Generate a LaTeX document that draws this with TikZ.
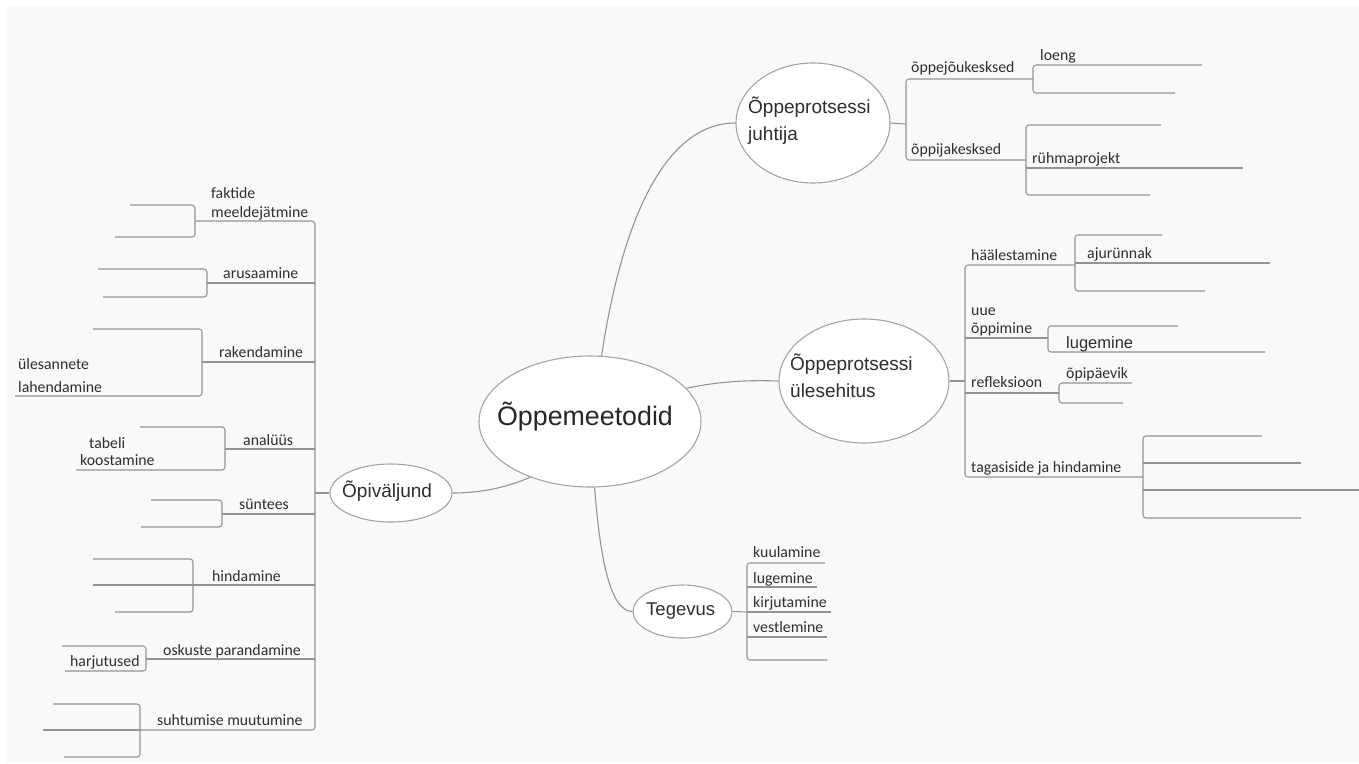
\documentclass[tikz,border=0pt]{standalone}
\usepackage{fontspec}
\setmainfont{Liberation Sans}
\newfontfamily\lblfont{Carlito}
\usetikzlibrary{shapes.geometric}
\definecolor{lncol}{HTML}{939393}
\definecolor{elcol}{HTML}{A4A4A4}
\definecolor{txcol}{HTML}{2E2E2E}
\definecolor{bgcol}{HTML}{F9F9F9}
\begin{document}
\begin{tikzpicture}[x=1pt,y=-1pt,
  ln/.style={draw=lncol, line width=1.05pt, rounded corners=3pt},
  lbl/.style={font=\lblfont\fontsize{15.8}{18}\selectfont, text=txcol, inner sep=0pt, anchor=base west},
  bub/.style={ellipse, draw=elcol, line width=1.1pt, fill=white, inner sep=0pt},
  btxt/.style={font=\fontsize{19}{22}\selectfont, text=txcol, inner sep=0pt, anchor=base west},
]
\useasboundingbox (0,0) rectangle (1359,763);
\fill[white] (0,0) rectangle (1359,763);
\fill[bgcol] (6,6) rectangle (1359,763);

% ---------- bubbles ----------
\node[bub, minimum width=222pt, minimum height=131pt] (C) at (590,421.5) {};
\node[bub, minimum width=122pt, minimum height=58pt] (O) at (391,493) {};
\node[bub, minimum width=154pt, minimum height=120pt] (J) at (813,123) {};
\node[bub, minimum width=170pt, minimum height=124pt] (U) at (864,381) {};
\node[bub, minimum width=99pt, minimum height=53pt] (T) at (682.5,611.5) {};

\node[font=\fontsize{26.8}{30}\selectfont, text=black!85, inner sep=0pt, anchor=base] (Ct) at (585,425) {Õppemeetodid};
\node[btxt] (Ot) at (342,497) {Õpiväljund};
\node[btxt] (Jt1) at (748,113) {Õppeprotsessi};
\node[btxt] (Jt2) at (748,140) {juhtija};
\node[btxt] (Ut1) at (790,370) {Õppeprotsessi};
\node[btxt] (Ut2) at (790,397) {ülesehitus};
\node[btxt, font=\fontsize{18.5}{22}\selectfont] (Tt) at (646,615) {Tegevus};

% ---------- main connectors ----------
\draw[draw=lncol, line width=1.1pt] (C.80) .. controls (622,220) and (665,123) .. (J.west);
\draw[draw=lncol, line width=1.1pt] (C.19) .. controls (720,381) and (750,380) .. (U.west);
\draw[draw=lncol, line width=1.1pt] (C.274) .. controls (599,545) and (608,612) .. (T.west);
\draw[draw=lncol, line width=1.1pt] (C.223) .. controls (505,488) and (480,493) .. (O.east);

% ---------- left: Opivaljund ----------
\coordinate (Lj) at (315,493);
\draw[ln] (O.west) -- (Lj);
\draw[ln] (195,221) -- (315,221) -- (315,730) -- (140,730);
\draw[ln] (315,283) -- (207,283);
\draw[ln] (315,362) -- (202,362);
\draw[ln] (315,449) -- (225,449);
\draw[ln] (315,514) -- (222,514);
\draw[ln] (315,585) -- (93,585);
\draw[ln] (315,659) -- (146,659);
\draw[ln] (140,730) -- (43,730);

\draw[ln] (130,205) -- (195,205) -- (195,237) -- (115,237);
\draw[ln] (98,269) -- (207,269) -- (207,297) -- (103,297);
\draw[ln] (93,329) -- (202,329) -- (202,396) -- (15,396);
\draw[ln] (140,427) -- (225,427) -- (225,470) -- (76,470);
\draw[ln] (151,500) -- (222,500) -- (222,527) -- (141,527);
\draw[ln] (93,559) -- (193,559) -- (193,612) -- (115,612);
\draw[ln] (62,646) -- (146,646) -- (146,671) -- (65,671);
\draw[ln] (53,704) -- (140,704) -- (140,757) -- (64,757);

\node[lbl] (l1a) at (211,198) {faktide};
\node[lbl] (l1b) at (211,217) {meeldejätmine};
\node[lbl] (l2) at (223,278) {arusaamine};
\node[lbl] (l3) at (219,357) {rakendamine};
\node[lbl] (l3a) at (18,369) {ülesannete};
\node[lbl] (l3b) at (18,392) {lahendamine};
\node[lbl] (l4) at (243,445) {analüüs};
\node[lbl] (l4a) at (89,448) {tabeli};
\node[lbl] (l4b) at (80,465) {koostamine};
\node[lbl] (l5) at (239,509) {süntees};
\node[lbl] (l6) at (212,581) {hindamine};
\node[lbl] (l7) at (163,655) {oskuste parandamine};
\node[lbl] (l7a) at (70,666) {harjutused};
\node[lbl] (l8) at (157,725) {suhtumise muutumine};

% ---------- top right: juhtija ----------
\coordinate (Jj) at (906,124);
\draw[ln] (J.east) -- (Jj);
\draw[ln] (1033,79) -- (906,79) -- (906,160) -- (1026,160);
\draw[ln] (1202,65) -- (1033,65) -- (1033,93) -- (1175,93);
\draw[ln] (1161,125) -- (1026,125) -- (1026,195) -- (1150,195);
\draw[ln] (1026,168) -- (1243,168);
\node[lbl] (r1) at (911,72) {õppejõukesksed};
\node[lbl] (r1a) at (1040,60) {loeng};
\node[lbl] (r2) at (911,154) {õppijakesksed};
\node[lbl] (r2a) at (1032,163) {rühmaprojekt};

% ---------- right: ulesehitus ----------
\coordinate (Uj) at (965,381);
\draw[ln] (U.east) -- (Uj);
\draw[ln] (1075,265) -- (965,265) -- (965,477) -- (1143,477);
\draw[ln] (965,338) -- (1048,338);
\draw[ln] (965,393) -- (1059,393);
\draw[ln] (1162,235) -- (1075,235) -- (1075,291) -- (1205,291);
\draw[ln] (1075,263) -- (1270,263);
\draw[ln] (1178,326) -- (1048,326) -- (1048,352) -- (1265,352);
\draw[ln] (1132,383) -- (1059,383) -- (1059,403) -- (1123,403);
\draw[ln] (1262,436) -- (1143,436) -- (1143,518) -- (1301,518);
\draw[ln] (1143,463) -- (1301,463);
\draw[ln] (1143,490) -- (1359,490);
\node[lbl] (u1) at (971,260) {häälestamine};
\node[lbl] (u1a) at (1087,258) {ajurünnak};
\node[lbl] (u2a) at (971,315) {uue};
\node[lbl] (u2b) at (971,333) {õppimine};
\node[btxt, font=\fontsize{16.5}{20}\selectfont] (u2c) at (1066,348) {lugemine};
\node[lbl] (u3) at (971,387) {refleksioon};
\node[lbl] (u3a) at (1066,378) {õpipäevik};
\node[lbl] (u4) at (971,472) {tagasiside ja hindamine};

% ---------- bottom: Tegevus ----------
\coordinate (Tj) at (747,612);
\draw[ln] (T.east) -- (Tj);
\draw[ln] (825,563) -- (747,563) -- (747,660) -- (827,660);
\draw[ln] (747,587) -- (817,587);
\draw[ln] (747,612) -- (831,612);
\draw[ln] (747,637) -- (827,637);
\node[lbl] (t1) at (753,557) {kuulamine};
\node[lbl] (t2) at (753,583) {lugemine};
\node[lbl] (t3) at (753,607) {kirjutamine};
\node[lbl] (t4) at (753,632) {vestlemine};
\end{tikzpicture}
\end{document}
